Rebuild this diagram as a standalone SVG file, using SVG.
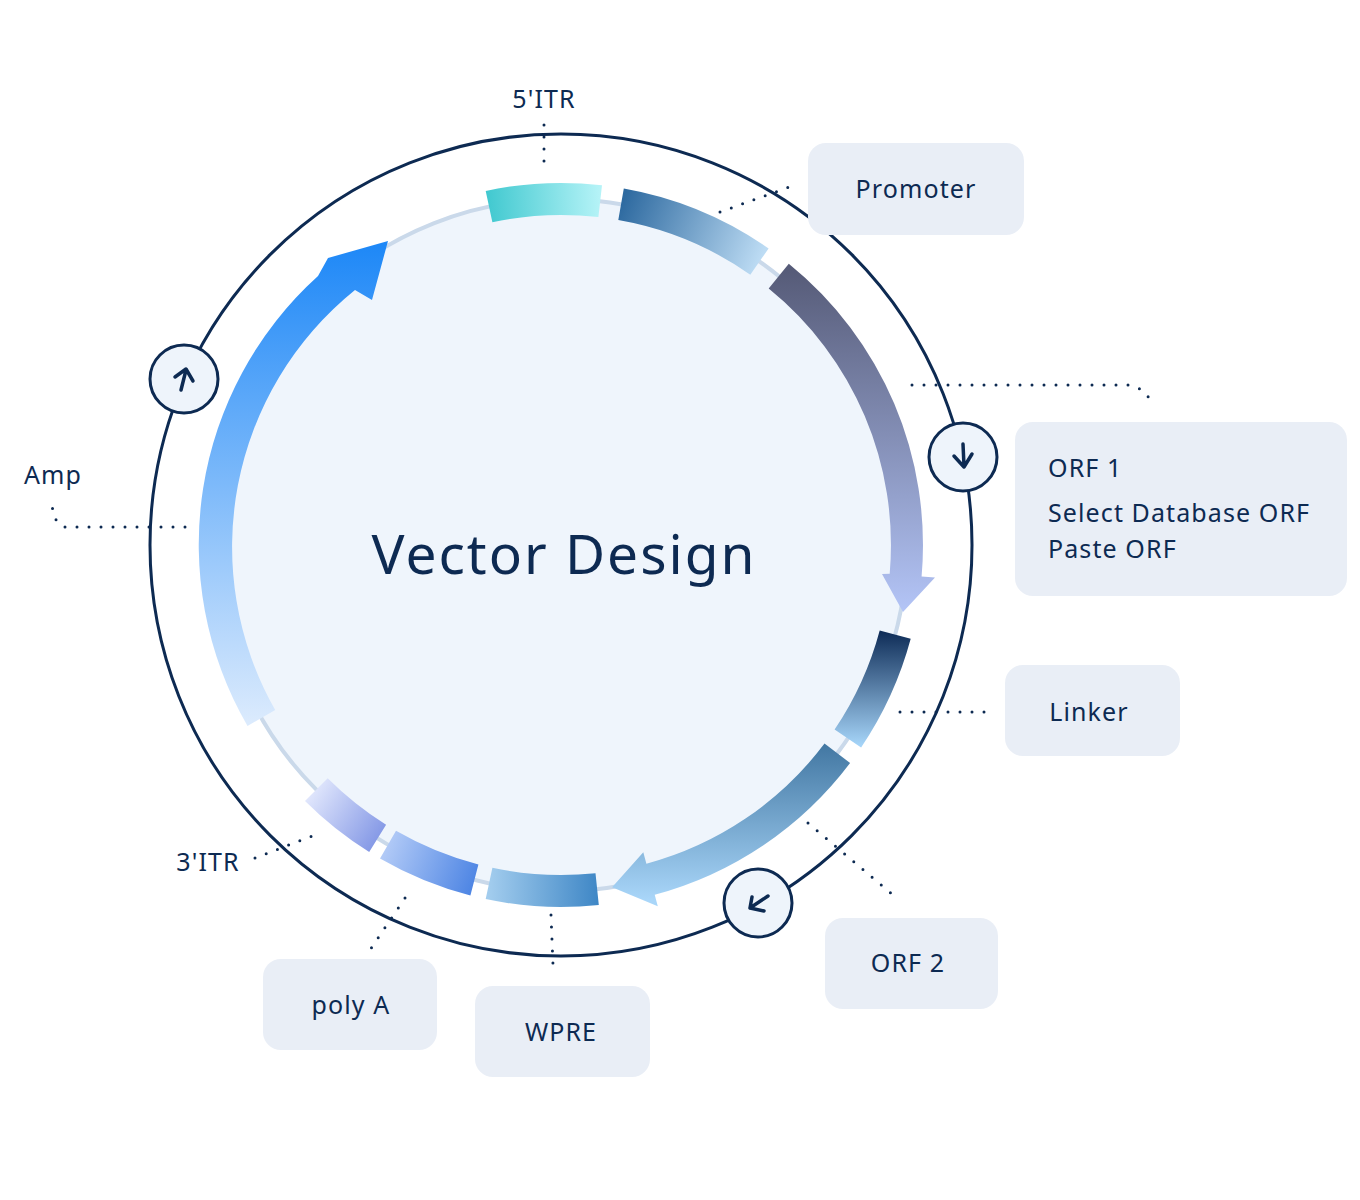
<svg xmlns="http://www.w3.org/2000/svg" width="1360" height="1200" viewBox="0 0 1360 1200">
<style>
text{font-family:"Noto Sans","Liberation Sans",sans-serif;fill:#0d2a52}
.lbl{font-size:25px;letter-spacing:1.1px}
.box{fill:#e9eef6}
.dot{fill:none;stroke:#0d2a52;stroke-width:3;stroke-linecap:round;stroke-dasharray:0 12}
.ic{fill:#eef4fb;stroke:#0d2a52;stroke-width:3}
.ar{fill:none;stroke:#0d2a52;stroke-width:3.5;stroke-linecap:round;stroke-linejoin:round}
</style>
<defs>
<linearGradient id="g5" gradientUnits="userSpaceOnUse" x1="488" y1="205" x2="600" y2="200"><stop offset="0" stop-color="#42c9d0"/><stop offset="1" stop-color="#b5f3f7"/></linearGradient>
<linearGradient id="gP" gradientUnits="userSpaceOnUse" x1="621" y1="205" x2="760" y2="262"><stop offset="0" stop-color="#2e6aa0"/><stop offset="1" stop-color="#bddcf4"/></linearGradient>
<linearGradient id="gO1" gradientUnits="userSpaceOnUse" x1="0" y1="270" x2="0" y2="610"><stop offset="0" stop-color="#565b78"/><stop offset="1" stop-color="#b3c4f6"/></linearGradient>
<linearGradient id="gL" gradientUnits="userSpaceOnUse" x1="0" y1="632" x2="0" y2="745"><stop offset="0" stop-color="#0f2d58"/><stop offset="1" stop-color="#a5d4f8"/></linearGradient>
<linearGradient id="gO2" gradientUnits="userSpaceOnUse" x1="0" y1="745" x2="0" y2="900"><stop offset="0" stop-color="#4378a3"/><stop offset="1" stop-color="#a9d6f9"/></linearGradient>
<linearGradient id="gW" gradientUnits="userSpaceOnUse" x1="488" y1="0" x2="598" y2="0"><stop offset="0" stop-color="#a3cdee"/><stop offset="1" stop-color="#3f87c6"/></linearGradient>
<linearGradient id="gA" gradientUnits="userSpaceOnUse" x1="385" y1="845" x2="475" y2="880"><stop offset="0" stop-color="#b3cbf7"/><stop offset="1" stop-color="#4f86e4"/></linearGradient>
<linearGradient id="g3" gradientUnits="userSpaceOnUse" x1="310" y1="795" x2="378" y2="840"><stop offset="0" stop-color="#e0e6fc"/><stop offset="1" stop-color="#8599e6"/></linearGradient>
<linearGradient id="gAmp" gradientUnits="userSpaceOnUse" x1="0" y1="725" x2="0" y2="245"><stop offset="0" stop-color="#dcebfd"/><stop offset="1" stop-color="#1e88f7"/></linearGradient>
</defs>
<rect width="1360" height="1200" fill="#ffffff"/>
<g id="backbone">
<circle cx="561" cy="545" r="411" fill="none" stroke="#0d2a52" stroke-width="3"/>
<circle cx="561" cy="545" r="346" fill="#eff5fc" stroke="#cad9ea" stroke-width="4"/>
</g>
<g id="connectors">
<path class="dot" d="M544,125 V172"/>
<path class="dot" d="M720,212 L795,185"/>
<path class="dot" d="M912,385 H1128 Q1145,387 1152,404"/>
<path class="dot" d="M185,527 H64 Q52,522 52,500"/>
<path class="dot" d="M900,712 H995"/>
<path class="dot" d="M808,823 L893,895"/>
<path class="dot" d="M551,915 L553,965"/>
<path class="dot" d="M405,898 L370,950"/>
<path class="dot" d="M255,858 L315,835"/>
</g>
<g id="itr5"><path fill="url(#g5)" d="M485.7,190.9 A362,362 0 0 1 602.0,185.3 L598.4,217.1 A330,330 0 0 0 492.4,222.2 Z"/><text class="lbl" x="544" y="108" text-anchor="middle">5'ITR</text></g>
<g id="promoter"><path fill="url(#gP)" d="M623.8,188.5 A362,362 0 0 1 768.6,248.5 L750.3,274.7 A330,330 0 0 0 618.3,220 Z"/><rect class="box" x="808" y="143" width="216" height="92" rx="18"/><text class="lbl" x="916" y="198" text-anchor="middle">Promoter</text></g>
<g id="orf1"><path fill="url(#gO1)" d="M788.8,263.7 A362,362 0 0 1 921.6,576.6 L935,577.6 L903,612 L882,574 L889.7,573.8 A330,330 0 0 0 768.7,288.6 Z"/>
<circle class="ic" cx="963" cy="457" r="34"/><path class="ar" d="M963,444 L964,466 M954,456 L964,467 L972,454"/>
<rect class="box" x="1015" y="422" width="332" height="174" rx="18"/>
<text class="lbl" x="1048" y="477">ORF 1</text><text class="lbl" x="1048" y="522">Select Database ORF</text><text class="lbl" x="1048" y="558">Paste ORF</text></g>
<g id="linker"><path fill="url(#gL)" d="M910.7,638.7 A362,362 0 0 1 861.1,747.4 L834.6,729.5 A330,330 0 0 0 879.7,630.4 Z"/><rect class="box" x="1005" y="665" width="175" height="91" rx="18"/><text class="lbl" x="1089" y="721" text-anchor="middle">Linker</text></g>
<g id="orf2"><path fill="url(#gO2)" d="M850.1,762.9 A362,362 0 0 1 654.7,894.7 L657.8,906.2 L612.1,887.2 L643.3,852.2 L646.4,863.7 A330,330 0 0 0 824.5,743.6 Z"/>
<circle class="ic" cx="758" cy="903" r="34"/><path class="ar" d="M768,896 L750,908 M752,897 L750,908 L764,911"/>
<rect class="box" x="825" y="918" width="173" height="91" rx="18"/><text class="lbl" x="908" y="972" text-anchor="middle">ORF 2</text></g>
<g id="wpre"><path fill="url(#gW)" d="M598.8,905 A362,362 0 0 1 485.7,899.1 L492.4,867.8 A330,330 0 0 0 595.5,873.2 Z"/><rect class="box" x="475" y="986" width="175" height="91" rx="18"/><text class="lbl" x="561" y="1041" text-anchor="middle">WPRE</text></g>
<g id="polya"><path fill="url(#gA)" d="M470.4,895.5 A362,362 0 0 1 380,858.5 L396,830.8 A330,330 0 0 0 478.4,864.5 Z"/><rect class="box" x="263" y="959" width="174" height="91" rx="18"/><text class="lbl" x="351" y="1014" text-anchor="middle">poly A</text></g>
<g id="itr3"><path fill="url(#g3)" d="M369.2,852 A362,362 0 0 1 305,801 L327.7,778.3 A330,330 0 0 0 386.1,824.8 Z"/><text class="lbl" x="208" y="871" text-anchor="middle">3'ITR</text></g>
<g id="amp"><path fill="url(#gAmp)" d="M247.5,726 A362,362 0 0 1 318,276 L328,258 L388,241 L372,300 L355,290 A330,330 0 0 0 275.2,710 Z"/>
<circle class="ic" cx="184" cy="379" r="34"/><path class="ar" d="M181,390 L186,370 M175,377 L186,369 L193,381"/>
<text class="lbl" x="53" y="484" text-anchor="middle">Amp</text></g>
<g id="title"><text x="564" y="574" text-anchor="middle" font-size="55" letter-spacing="2">Vector Design</text></g>
</svg>
